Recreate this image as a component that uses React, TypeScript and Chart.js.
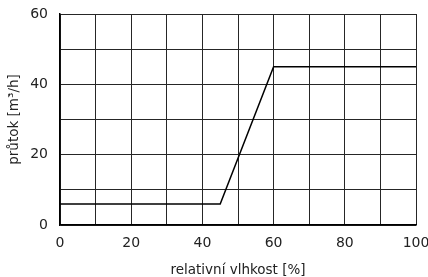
import React, { useEffect, useRef } from "react";
import { Chart, registerables } from "chart.js";

Chart.register(...registerables);

const humidity = [0, 45, 60, 100];
const flow = [6, 6, 45, 45];
const xTickLabels = [0, 20, 40, 60, 80, 100];
const yTickLabels = [0, 20, 40, 60];
const xTitle = "relativní vlhkost [%]";
const yTitle = "průtok [m³/h]";

const FONT = "'DejaVu Sans', 'Liberation Sans', Arial, sans-serif";
const TEXT = "#222";

export default function App() {
  const ref = useRef<HTMLCanvasElement | null>(null);

  useEffect(() => {
    document.body.style.margin = "0";
    const canvas = ref.current;
    if (!canvas) return;
    const chart = new Chart(canvas, {
      type: "line",
      data: {
        datasets: [
          {
            data: humidity.map((x, i) => ({ x, y: flow[i] })),
            borderColor: "#000",
            borderWidth: 1.5,
            pointRadius: 0,
            fill: false,
            tension: 0,
          },
        ],
      },
      options: {
        animation: false,
        responsive: false,
        devicePixelRatio: 1,
        layout: { padding: { left: 0, right: 12, top: 14, bottom: 0 } },
        plugins: { legend: { display: false }, tooltip: { enabled: false } },
        scales: {
          x: {
            type: "linear",
            min: 0,
            max: 100,
            grid: { color: "#262626", lineWidth: 1, drawTicks: false },
            border: { color: "#000", width: 1.5 },
            ticks: {
              stepSize: 10,
              padding: 10,
              color: TEXT,
              font: { family: FONT, size: 14 },
              maxRotation: 0,
              autoSkip: false,
              callback: (v: any) => (xTickLabels.includes(Number(v)) ? String(v) : ""),
            },
            title: {
              display: true,
              text: xTitle,
              color: TEXT,
              font: { family: FONT, size: 13.5, lineHeight: 1 },
              padding: { top: 0, bottom: 0 },
            },
            afterFit: (s: any) => {
              s.height = 52;
              s.paddingLeft = 0;
              s.paddingRight = 0;
            },
          },
          y: {
            type: "linear",
            min: 0,
            max: 60,
            grid: { color: "#262626", lineWidth: 1, drawTicks: false },
            border: { color: "#000", width: 1.5 },
            ticks: {
              stepSize: 10,
              padding: 12,
              color: TEXT,
              font: { family: FONT, size: 14 },
              autoSkip: false,
              callback: (v: any) => (yTickLabels.includes(Number(v)) ? String(v) : ""),
            },
            title: {
              display: true,
              text: yTitle,
              color: TEXT,
              font: { family: FONT, size: 13.5, lineHeight: 1 },
              padding: { top: 8, bottom: 0 },
            },
            afterFit: (s: any) => {
              s.width = 60;
              s.paddingTop = 0;
              s.paddingBottom = 0;
            },
          },
        },
      },
    });
    return () => chart.destroy();
  }, []);

  return <canvas ref={ref} width={428} height={277} style={{ display: "block" }} />;
}
